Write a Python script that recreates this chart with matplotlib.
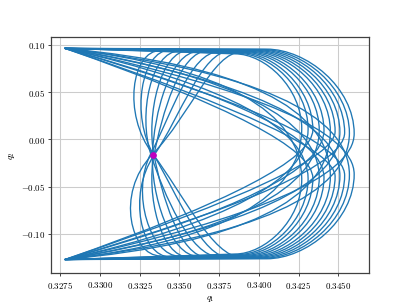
import matplotlib
matplotlib.use('Agg')
import matplotlib.pyplot as plt
from matplotlib.path import Path
from matplotlib.patches import PathPatch

plt.rcParams['mathtext.fontset'] = 'cm'

# tips of the orbit (upper left / lower left)
tip_top = (0.3278, 0.0963)
tip_bot = (0.3278, -0.1273)

# figure-eight loops, outermost first
loop_xv = [0.3460, 0.3457, 0.3454, 0.3451, 0.3448, 0.3445, 0.3441, 0.3438, 0.3434, 0.3431, 0.3427]
loop_xe = [0.3405, 0.3403, 0.3401, 0.3399, 0.3397, 0.3395, 0.3393, 0.3391, 0.3389, 0.3387, 0.3385]
knee_top = [0.030, 0.060, 0.010, 0.045, 0.000, 0.070, 0.020, 0.052, 0.005, 0.038, 0.066]
knee_bot = [-0.061, -0.091, -0.041, -0.076, -0.031, -0.101, -0.051, -0.083, -0.036, -0.069, -0.097]
band_top = [0.0955, 0.0950, 0.0945, 0.0940, 0.0935, 0.0930, 0.0925, 0.0920, 0.0915, 0.0910, 0.0905]
band_bot = [-0.1265, -0.1260, -0.1255, -0.1250, -0.1245, -0.1240, -0.1235, -0.1230, -0.1225, -0.1220, -0.1215]
bump_hi = [0.006, 0.0065, 0.007, 0.0075, 0.008, 0.0085, 0.009, 0.0095, 0.010, 0.0105, 0.011]
bump_lo = [-0.037, -0.0375, -0.038, -0.0385, -0.039, -0.0395, -0.040, -0.0405, -0.041, -0.0415, -0.042]

# lobes through the pinch on the left
bell_xtop = [0.3338, 0.3344, 0.3350, 0.3356, 0.3362, 0.3368, 0.3375, 0.3382, 0.3389]
bell_ytop = [0.0940, 0.0945, 0.0935, 0.0942, 0.0930, 0.0938, 0.0928, 0.0935, 0.0925]
bell_xbot = [0.3389, 0.3382, 0.3375, 0.3368, 0.3362, 0.3356, 0.3350, 0.3344, 0.3338]
bell_ybot = [-0.1250, -0.1255, -0.1245, -0.1252, -0.1240, -0.1248, -0.1238, -0.1245, -0.1235]
pinch_x = [0.3333, 0.3334, 0.3332, 0.3334, 0.3333, 0.3334, 0.3332, 0.3334, 0.3333]
pinch_y = [-0.0150, -0.0172, -0.0158, -0.0168, -0.0155, -0.0165, -0.0152, -0.0170, -0.0160]
arm_up_x = [0.3314, 0.3319, 0.3324, 0.3329, 0.3334, 0.3339, 0.3345, 0.3351, 0.3357]
arm_dn_x = [0.3352, 0.3349, 0.3340, 0.3339, 0.3332, 0.3329, 0.3319, 0.3317, 0.3309]

# start point
q1_0 = [0.33332]
q2_0 = [-0.0162]

xticks = [0.3275, 0.3300, 0.3325, 0.3350, 0.3375, 0.3400, 0.3425, 0.3450]
xlabels = ['$0.3275$', '$0.3300$', '$0.3325$', '$0.3350$', '$0.3375$', '$0.3400$', '$0.3425$', '$0.3450$']
yticks = [-0.10, -0.05, 0.00, 0.05, 0.10]
ylabels = ['$-0.10$', '$-0.05$', '$0.00$', '$0.05$', '$0.10$']

blue = '#1f77b4'
C3, C4, L = Path.CURVE3, Path.CURVE4, Path.LINETO


def arc(start, xe, yband):
    # from a right-hand bump round into a horizontal band
    c1 = (start[0], start[1] + 0.55 * (yband - start[1]))
    c2 = (xe + 0.45 * (start[0] - xe), yband)
    return [c1, c2, (xe, yband)], [C4, C4, C4]


fig, ax = plt.subplots(figsize=(6.4, 4.8), dpi=64)

for k in range(len(loop_xv)):
    xv = loop_xv[k]
    verts = [tip_top, (xv, knee_top[k]), (xv, bump_lo[k])]
    codes = [Path.MOVETO, C3, C3]
    v, c = arc((xv, bump_lo[k]), loop_xe[k], band_bot[k])
    verts += v; codes += c
    verts += [tip_bot, (xv, knee_bot[k]), (xv, bump_hi[k])]
    codes += [L, C3, C3]
    v, c = arc((xv, bump_hi[k]), loop_xe[k], band_top[k])
    verts += v; codes += c
    verts.append(tip_top); codes.append(L)
    ax.add_patch(PathPatch(Path(verts, codes), fill=False, edgecolor=blue, lw=1.5,
                           joinstyle='round', capstyle='round'))

for k in range(len(bell_xtop)):
    px, py = pinch_x[k], pinch_y[k]
    verts = [(bell_xtop[k], bell_ytop[k]),
             (bell_xtop[k] - 0.0018, bell_ytop[k]), (arm_up_x[k], py + 0.042), (px, py),
             (arm_dn_x[k], py - 0.042), (bell_xbot[k] - 0.0018, bell_ybot[k]), (bell_xbot[k], bell_ybot[k])]
    codes = [Path.MOVETO, C4, C4, C4, C4, C4, C4]
    ax.add_patch(PathPatch(Path(verts, codes), fill=False, edgecolor=blue, lw=1.5,
                           joinstyle='round', capstyle='round'))

ax.plot(q1_0, q2_0, 'o', color='m', markersize=6.5, zorder=5)

ax.set_xlim(0.32693, 0.34691)
ax.set_ylim(-0.1418, 0.1087)
ax.set_xticks(xticks)
ax.set_xticklabels(xlabels)
ax.set_yticks(yticks)
ax.set_yticklabels(ylabels)
ax.set_xlabel('$q_1$')
ax.set_ylabel('$q_2$')
ax.grid(True, color='0.8', lw=1.2)
ax.set_axisbelow(True)
for s in ax.spines.values():
    s.set_linewidth(1.4)
    s.set_color('0.25')

plt.savefig('out.png', dpi=64)
